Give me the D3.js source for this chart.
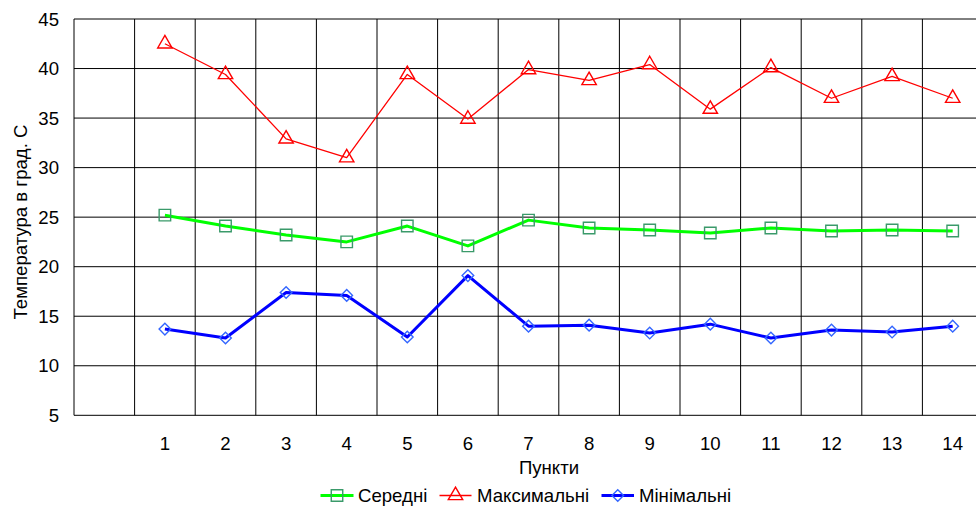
<!DOCTYPE html>
<html>
<head>
<meta charset="utf-8">
<script src="https://cdn.jsdelivr.net/npm/d3@7/dist/d3.min.js"></script>
<style>
  html, body { margin: 0; padding: 0; background: #fff; }
  svg { display: block; font-family: "Liberation Sans", Arial, sans-serif; }
</style>
</head>
<body>
<svg id="chart" width="976" height="506"></svg>
<script>
const categories = ["1","2","3","4","5","6","7","8","9","10","11","12","13","14"];
const avgValues = [25.2, 24.1, 23.2, 22.5, 24.1, 22.1, 24.7, 23.9, 23.7, 23.4, 23.9, 23.6, 23.7, 23.6];
const maxValues = [42.5, 39.4, 32.9, 31.0, 39.4, 34.9, 39.9, 38.8, 40.4, 35.9, 40.1, 37.0, 39.2, 37.0];
const minValues = [13.7, 12.8, 17.4, 17.1, 12.9, 19.1, 14.0, 14.1, 13.3, 14.2, 12.8, 13.6, 13.4, 14.0];
const yTicks = [5, 10, 15, 20, 25, 30, 35, 40, 45];
const seriesNames = ["Середні", "Максимальні", "Мінімальні"];
const yTitle = "Температура в град. С";
const xTitle = "Пункти";

const svg = d3.select("#chart");
const pLeft = 74, pRight = 983, pTop = 19, pBottom = 415.3;
const fs = 18.6;

const x = d3.scaleBand().domain(["", ...categories]).range([pLeft, pRight]).padding(0);
const y = d3.scaleLinear().domain([5, 45]).range([pBottom, pTop]);
const cx = c => x(c) + x.bandwidth() / 2;

const series = [
  { name: seriesNames[0], values: avgValues, line: "#00ff00", width: 3, marker: d3.symbolSquare, mcolor: "#3a9a6a", msize: 132 },
  { name: seriesNames[1], values: maxValues, line: "#ff0000", width: 1.3, marker: d3.symbolTriangle, mcolor: "#ff0000", msize: 90 },
  { name: seriesNames[2], values: minValues, line: "#0000ff", width: 3, marker: d3.symbolDiamond2, mcolor: "#3366ff", msize: 86 }
];

// grid
const g = svg.append("g");
g.selectAll("line.h").data(yTicks).join("line")
  .attr("x1", pLeft).attr("x2", 976)
  .attr("y1", d => y(d)).attr("y2", d => y(d))
  .attr("stroke", "#000").attr("stroke-width", 1);
g.selectAll("line.v").data(["", ...categories]).join("line")
  .attr("x1", d => x(d)).attr("x2", d => x(d))
  .attr("y1", pTop).attr("y2", pBottom)
  .attr("stroke", "#000").attr("stroke-width", 1);

// y axis labels
svg.append("g").selectAll("text").data(yTicks).join("text")
  .attr("x", 59).attr("y", d => y(d)).attr("dy", "0.35em")
  .attr("text-anchor", "end").attr("font-size", fs).attr("fill", "#000")
  .text(d => d);

// x axis labels
svg.append("g").selectAll("text").data(categories).join("text")
  .attr("x", d => cx(d)).attr("y", 443).attr("dy", "0.35em")
  .attr("text-anchor", "middle").attr("font-size", fs).attr("fill", "#000")
  .text(d => d);

// titles
svg.append("text").attr("x", 549).attr("y", 473.5)
  .attr("text-anchor", "middle").attr("font-size", fs).text(xTitle);
svg.append("text")
  .attr("transform", "translate(27,222) rotate(-90)")
  .attr("text-anchor", "middle").attr("font-size", fs).text(yTitle);

// series
series.forEach(s => {
  const pts = s.values.map((v, i) => [cx(categories[i]), y(v)]);
  svg.append("path").attr("d", d3.line()(pts))
    .attr("fill", "none").attr("stroke", s.line).attr("stroke-width", s.width)
    .attr("stroke-linejoin", "round");
  const sym = d3.symbol().type(s.marker).size(s.msize);
  svg.append("g").selectAll("path").data(pts).join("path")
    .attr("transform", d => `translate(${d[0]},${d[1]})`)
    .attr("d", sym).attr("fill", "none")
    .attr("stroke", s.mcolor).attr("stroke-width", 1.4);
});

// legend
const legendItems = [
  { s: series[0], x0: 320.5, x1: 353.5, tx: 358 },
  { s: series[1], x0: 439.5, x1: 471.5, tx: 477 },
  { s: series[2], x0: 601.5, x1: 634, tx: 639 }
];
const ly = 495.5;
const lg = svg.append("g");
legendItems.forEach(it => {
  lg.append("line").attr("x1", it.x0).attr("x2", it.x1).attr("y1", ly).attr("y2", ly)
    .attr("stroke", it.s.line).attr("stroke-width", it.s.width);
  lg.append("path").attr("transform", `translate(${(it.x0 + it.x1) / 2},${ly})`)
    .attr("d", d3.symbol().type(it.s.marker).size(it.s.msize))
    .attr("fill", "none").attr("stroke", it.s.mcolor).attr("stroke-width", 1.4);
  lg.append("text").attr("x", it.tx).attr("y", ly).attr("dy", "0.35em")
    .attr("font-size", fs).text(it.s.name);
});
</script>
</body>
</html>
